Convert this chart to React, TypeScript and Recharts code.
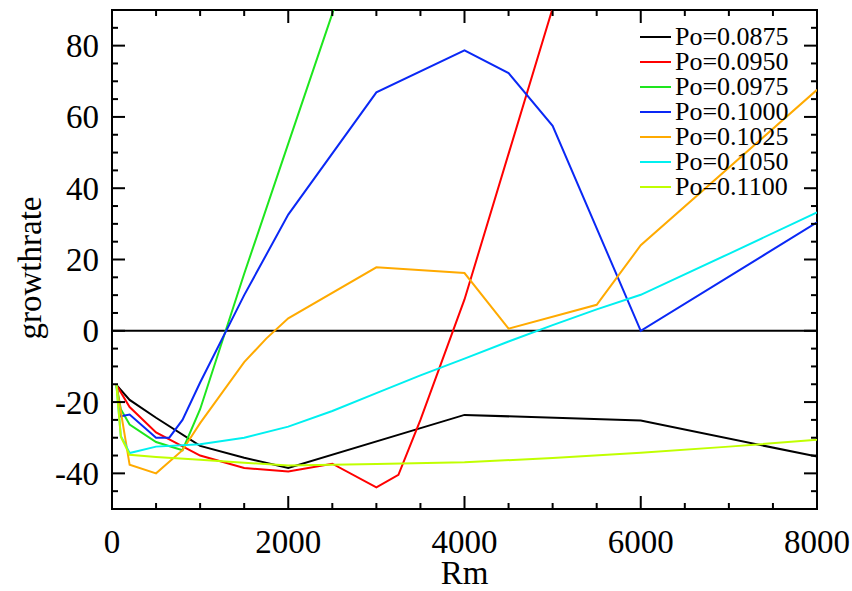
import React from 'react';
import { LineChart, Line, XAxis, YAxis, ReferenceLine, ReferenceArea, Legend, Label } from 'recharts';

// Rm grid and growth rate for each Po run
const rm0875 = [50, 200, 500, 1000, 1500, 2000, 4000, 6000, 8000];
const gr0875 = [-15.2, -19.4, -24.4, -32.3, -35.6, -38.5, -23.6, -25.2, -35.3];

const rm0950 = [50, 200, 500, 1000, 1500, 2000, 2500, 3000, 3250, 3500, 4000, 5000];
const gr0950 = [-15.2, -21.4, -28.5, -35, -38.5, -39.5, -37.3, -43.9, -40.4, -25, 8.8, 90.5];

const rm0975 = [50, 100, 200, 500, 800, 1000, 1500, 2000, 2500, 3000];
const gr0975 = [-15.2, -22, -26.3, -31.2, -33.5, -22, 16, 52.5, 89, 126];

const rm1000 = [50, 100, 200, 500, 650, 800, 1000, 1500, 2000, 3000, 4000, 4500, 5000, 6000, 8000];
const gr1000 = [-15.2, -24, -23.5, -30, -30, -25, -14.5, 10, 32.6, 66.9, 78.7, 72.3, 57.5, 0, 30.4];

const rm1025 = [50, 200, 500, 800, 1000, 1500, 1750, 2000, 3000, 4000, 4500, 5500, 6000, 8000];
const gr1025 = [-15.2, -37.6, -40, -33.5, -25.9, -8.8, -2.2, 3.5, 17.8, 16.2, 0.6, 7.3, 24, 67.6];

const rm1050 = [50, 100, 200, 500, 1000, 1500, 2000, 2500, 3000, 3500, 4000, 4500, 5000, 5500, 6000, 7000, 8000];
const gr1050 = [-15.2, -29.5, -34.3, -32.5, -31.8, -30, -26.9, -22.5, -17.5, -12.5, -7.8, -3, 1.6, 6, 10.1, 21.6, 33.2];

const rm1100 = [50, 100, 200, 500, 1000, 1500, 2000, 3000, 4000, 5000, 6000, 7000, 8000];
const gr1100 = [-15.2, -29.7, -34.8, -35.4, -36.2, -37, -37.8, -37.4, -36.9, -35.7, -34.2, -32.5, -30.6];

const xLabels = [0, 2000, 4000, 6000, 8000];
const xTicks = [0, 500, 1000, 1500, 2000, 2500, 3000, 3500, 4000, 4500, 5000, 5500, 6000, 6500, 7000, 7500, 8000];
const yLabels = [-40, -20, 0, 20, 40, 60, 80];
const yTicks = [-50, -45, -40, -35, -30, -25, -20, -15, -10, -5, 0, 5, 10, 15, 20, 25, 30, 35, 40, 45, 50, 55, 60, 65, 70, 75, 80, 85, 90];

const zip = (xs: number[], ys: number[]) => xs.map((rm, i) => ({ rm, g: ys[i] }));

const series = [
  { name: 'Po=0.0875', color: '#000000', data: zip(rm0875, gr0875) },
  { name: 'Po=0.0950', color: '#ff0000', data: zip(rm0950, gr0950) },
  { name: 'Po=0.0975', color: '#1ee61e', data: zip(rm0975, gr0975) },
  { name: 'Po=0.1000', color: '#0a28f5', data: zip(rm1000, gr1000) },
  { name: 'Po=0.1025', color: '#ffaa00', data: zip(rm1025, gr1025) },
  { name: 'Po=0.1050', color: '#00f0f0', data: zip(rm1050, gr1050) },
  { name: 'Po=0.1100', color: '#c0ff00', data: zip(rm1100, gr1100) },
];

const FONT = '"Liberation Serif", "Times New Roman", serif';
const W = 852;
const H = 591;
const PLOT = { left: 112, right: 817, top: 10, bottom: 509 };

function XTick({ x, payload }: any) {
  const v = payload.value;
  const major = xLabels.includes(v);
  const len = major ? 13 : 6;
  return (
    <g>
      <line x1={x} x2={x} y1={PLOT.bottom} y2={PLOT.bottom - len} stroke="#000" strokeWidth={2} />
      <line x1={x} x2={x} y1={PLOT.top} y2={PLOT.top + len} stroke="#000" strokeWidth={2} />
      {major && (
        <text x={x} y={553} textAnchor="middle" fontSize={33} fontFamily={FONT} fill="#000">{v}</text>
      )}
    </g>
  );
}

function YTick({ y, payload }: any) {
  const v = payload.value;
  const major = yLabels.includes(v);
  const len = major ? 13 : 6;
  return (
    <g>
      <line x1={PLOT.left} x2={PLOT.left + len} y1={y} y2={y} stroke="#000" strokeWidth={2} />
      <line x1={PLOT.right} x2={PLOT.right - len} y1={y} y2={y} stroke="#000" strokeWidth={2} />
      {major && (
        <text x={99} y={y} dy="0.35em" textAnchor="end" fontSize={33} fontFamily={FONT} fill="#000">{v}</text>
      )}
    </g>
  );
}

function LegendBox({ payload }: any) {
  return (
    <div style={{ fontFamily: FONT, fontSize: 26, lineHeight: '25px', color: '#000' }}>
      {(payload || []).map((p: any) => (
        <div key={p.value} style={{ display: 'flex', alignItems: 'center', height: 25, whiteSpace: 'nowrap' }}>
          <div style={{ width: 31, height: 2, background: p.color, marginRight: 4 }} />
          <span>{p.value}</span>
        </div>
      ))}
    </div>
  );
}

export default function App() {
  return (
    <div style={{ position: 'absolute', left: 0, top: 0, background: '#fff' }}>
      <LineChart width={W} height={H} margin={{ top: PLOT.top, right: W - PLOT.right, bottom: 0, left: 0 }}>
        <XAxis
          dataKey="rm"
          type="number"
          domain={[0, 8000]}
          allowDataOverflow
          ticks={xTicks}
          interval={0}
          height={H - PLOT.bottom}
          tickLine={false}
          axisLine={false}
          tick={<XTick />}
        >
          <Label
            content={() => (
              <text x={(PLOT.left + PLOT.right) / 2} y={584} textAnchor="middle" fontSize={33} fontFamily={FONT} fill="#000">Rm</text>
            )}
          />
        </XAxis>
        <YAxis
          type="number"
          domain={[-50, 90]}
          allowDataOverflow
          ticks={yTicks}
          interval={0}
          width={PLOT.left}
          tickLine={false}
          axisLine={false}
          tick={<YTick />}
        >
          <Label
            content={() => (
              <text x={41} y={268} transform="rotate(-90 41 268)" textAnchor="middle" fontSize={33} fontFamily={FONT} fill="#000">growthrate</text>
            )}
          />
        </YAxis>
        <ReferenceArea x1={0} x2={8000} y1={-50} y2={90} stroke="#000" strokeWidth={2} fill="none" fillOpacity={0} />
        <ReferenceLine y={0} stroke="#000" strokeWidth={2} />
        {series.map((s) => (
          <Line
            key={s.name}
            name={s.name}
            data={s.data}
            dataKey="g"
            type="linear"
            stroke={s.color}
            strokeWidth={2}
            dot={false}
            isAnimationActive={false}
          />
        ))}
        <Legend
          layout="vertical"
          align="center"
          verticalAlign="middle"
          wrapperStyle={{ left: 640, top: 24, width: 160 }}
          content={<LegendBox />}
        />
      </LineChart>
    </div>
  );
}
